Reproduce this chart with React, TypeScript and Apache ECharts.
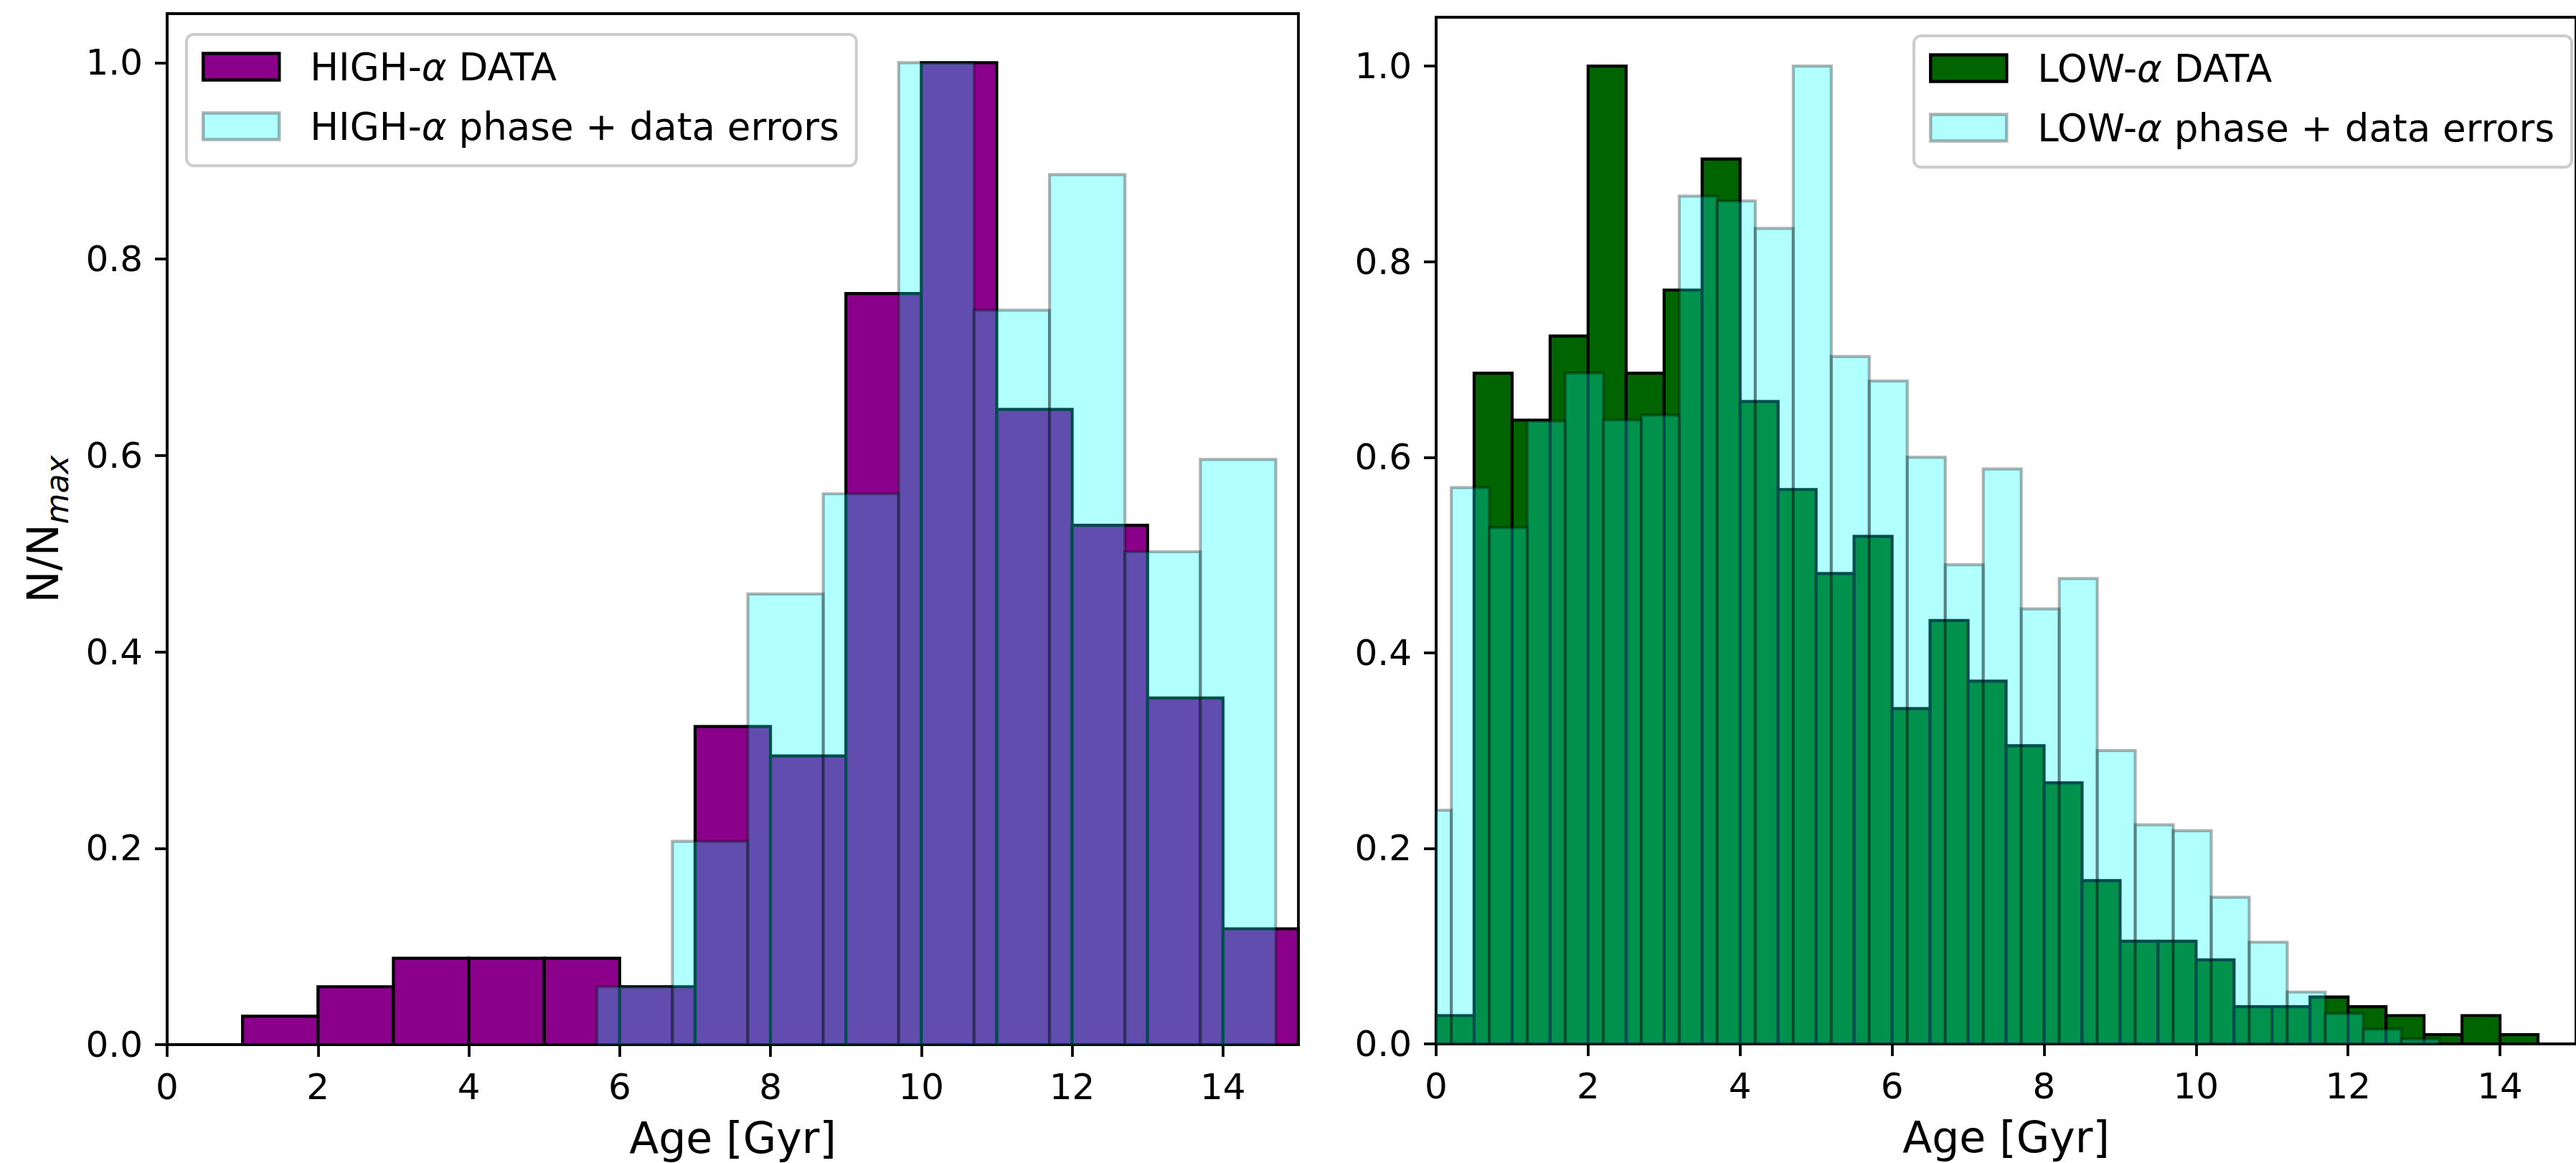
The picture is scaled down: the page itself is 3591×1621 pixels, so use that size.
import React, { useEffect, useRef } from 'react';
import * as echarts from 'echarts';

// ---------- data (normalised counts N/Nmax) ----------
const highDataEdges = [1, 2, 3, 4, 5, 6, 7, 8, 9, 10, 11, 12, 13, 14, 15];
const highDataValues = [0.029, 0.059, 0.088, 0.088, 0.088, 0.059, 0.324, 0.294, 0.765, 1.0, 0.647, 0.529, 0.353, 0.118];

const highModelEdges = [5.7, 6.7, 7.7, 8.7, 9.7, 10.7, 11.7, 12.7, 13.7, 14.7];
const highModelValues = [0.059, 0.207, 0.459, 0.561, 1.0, 0.748, 0.886, 0.502, 0.596];

const lowDataEdges = [0, 0.5, 1, 1.5, 2, 2.5, 3, 3.5, 4, 4.5, 5, 5.5, 6, 6.5, 7, 7.5, 8, 8.5, 9, 9.5, 10, 10.5, 11, 11.5, 12, 12.5, 13, 13.5, 14, 14.5];
const lowDataValues = [0.029, 0.686, 0.638, 0.724, 1.0, 0.686, 0.771, 0.905, 0.657, 0.567, 0.481, 0.519, 0.343, 0.433, 0.371, 0.305, 0.267, 0.167, 0.105, 0.105, 0.086, 0.038, 0.038, 0.048, 0.038, 0.029, 0.0095, 0.029, 0.0095];

const lowModelEdges = [-0.3, 0.2, 0.7, 1.2, 1.7, 2.2, 2.7, 3.2, 3.7, 4.2, 4.7, 5.2, 5.7, 6.2, 6.7, 7.2, 7.7, 8.2, 8.7, 9.2, 9.7, 10.2, 10.7, 11.2, 11.7, 12.2, 12.7, 13.2];
const lowModelValues = [0.239, 0.569, 0.528, 0.637, 0.686, 0.638, 0.643, 0.867, 0.862, 0.834, 1.0, 0.703, 0.678, 0.600, 0.490, 0.588, 0.445, 0.476, 0.300, 0.224, 0.218, 0.150, 0.104, 0.053, 0.031, 0.015, 0.005];

const xTicks = [0, 2, 4, 6, 8, 10, 12, 14];
const yTicks = [0, 0.2, 0.4, 0.6, 0.8, 1.0];

const NAME_HIGH_DATA = 'HIGH-α DATA';
const NAME_HIGH_MODEL = 'HIGH-α phase + data errors';
const NAME_LOW_DATA = 'LOW-α DATA';
const NAME_LOW_MODEL = 'LOW-α phase + data errors';

const FONT = 'DejaVu Sans';
const EDGE_W = 4.2;

const toBins = (edges: number[], values: number[]) =>
  values.map((v, i) => [edges[i], edges[i + 1], v]);

const histRender = (fill: string, stroke: string, lw: number) => (params: any, api: any) => {
  const x0 = api.value(0);
  const x1 = api.value(1);
  const y = api.value(2);
  const p0 = api.coord([x0, y]);
  const p1 = api.coord([x1, 0]);
  const cs = params.coordSys;
  const rect = echarts.graphic.clipRectByRect(
    { x: p0[0], y: p0[1], width: p1[0] - p0[0], height: p1[1] - p0[1] },
    { x: cs.x, y: cs.y, width: cs.width, height: cs.height }
  );
  if (!rect) return null;
  return {
    type: 'rect',
    shape: rect,
    style: { fill, stroke, lineWidth: lw },
  };
};

const histSeries = (name: string, edges: number[], values: number[], idx: number, fill: string, stroke: string, lw: number) => ({
  type: 'custom',
  name,
  xAxisIndex: idx,
  yAxisIndex: idx,
  renderItem: histRender(fill, stroke, lw),
  encode: { x: [0, 1], y: 2 },
  data: toBins(edges, values),
  itemStyle: { color: fill },
});

const axisCommon = {
  axisLine: { show: true, onZero: false, lineStyle: { color: '#000', width: 3.8 } },
  axisTick: { show: true, inside: false, length: 17, lineStyle: { color: '#000', width: 3.8 } },
  splitLine: { show: false },
};

const xAxisFor = (gridIndex: number) => ({
  type: 'value',
  gridIndex,
  min: 0,
  max: 15,
  ...axisCommon,
  axisTick: { ...axisCommon.axisTick, customValues: xTicks },
  axisLabel: {
    customValues: xTicks,
    margin: 34,
    fontSize: 50,
    color: '#000',
    fontFamily: FONT,
    formatter: (v: number) => String(v),
  },
  name: 'Age [Gyr]',
  nameLocation: 'middle',
  nameGap: 100,
  nameTextStyle: { fontSize: 60, color: '#000', fontFamily: FONT },
});

const yAxisFor = (gridIndex: number, withName: boolean) => ({
  type: 'value',
  gridIndex,
  min: 0,
  max: 1.05,
  ...axisCommon,
  axisTick: { ...axisCommon.axisTick, customValues: yTicks },
  axisLabel: {
    customValues: yTicks,
    margin: 34,
    fontSize: 50,
    color: '#000',
    fontFamily: FONT,
    formatter: (v: number) => v.toFixed(1),
  },
  ...(withName
    ? {
        name: '{n|N/N}{s|max}',
        nameLocation: 'middle',
        nameGap: 132,
        nameTextStyle: {
          color: '#000',
          fontFamily: FONT,
          rich: {
            n: { fontSize: 60, fontFamily: FONT, color: '#000' },
            s: { fontSize: 44, fontFamily: FONT, fontStyle: 'italic', color: '#000', padding: [38, 0, 0, 0] },
          },
        },
      }
    : {}),
});

const legendFor = (pos: any, dataName: string, dataColor: string, modelName: string) => ({
  ...pos,
  orient: 'vertical',
  selectedMode: false,
  icon: 'rect',
  itemWidth: 106,
  itemHeight: 37,
  itemGap: 21,
  padding: [14, 24, 24, 21],
  backgroundColor: 'rgba(255,255,255,0.8)',
  borderColor: '#cccccc',
  borderWidth: 4,
  borderRadius: 10,
  formatter: (name: string) => name.replace('α', '{a|α}'),
  textStyle: {
    fontSize: 53,
    lineHeight: 62,
    color: '#000',
    fontFamily: FONT,
    padding: [0, 0, 0, 38],
    rich: {
      a: { fontSize: 53, fontStyle: 'italic', fontFamily: FONT, color: '#000' },
    },
  },
  data: [
    { name: dataName, itemStyle: { color: dataColor, borderColor: '#000', borderWidth: 4.5 } },
    { name: modelName, itemStyle: { color: 'rgba(0,255,255,0.3)', borderColor: 'rgba(0,0,0,0.3)', borderWidth: 4.5 } },
  ],
});

export default function App() {
  const ref = useRef<HTMLDivElement>(null);

  useEffect(() => {
    if (!ref.current) return;
    const chart = echarts.init(ref.current, null, { renderer: 'svg' });
    const option: any = {
      animation: false,
      backgroundColor: '#ffffff',
      grid: [
        { left: 233, top: 19, width: 1577, height: 1439, show: true, borderColor: '#000', borderWidth: 3.8, backgroundColor: 'transparent' },
        { left: 2002, top: 24, width: 1608, height: 1431, show: true, borderColor: '#000', borderWidth: 3.8, backgroundColor: 'transparent' },
      ],
      xAxis: [xAxisFor(0), xAxisFor(1)],
      yAxis: [yAxisFor(0, true), yAxisFor(1, false)],
      legend: [
        legendFor({ left: 260, top: 48 }, NAME_HIGH_DATA, '#8B008B', NAME_HIGH_MODEL),
        legendFor({ right: 6, top: 50 }, NAME_LOW_DATA, '#006400', NAME_LOW_MODEL),
      ],
      series: [
        histSeries(NAME_HIGH_DATA, highDataEdges, highDataValues, 0, '#8B008B', '#000000', EDGE_W),
        histSeries(NAME_HIGH_MODEL, highModelEdges, highModelValues, 0, 'rgba(0,255,255,0.3)', 'rgba(0,0,0,0.3)', EDGE_W),
        histSeries(NAME_LOW_DATA, lowDataEdges, lowDataValues, 1, '#006400', '#000000', EDGE_W),
        histSeries(NAME_LOW_MODEL, lowModelEdges, lowModelValues, 1, 'rgba(0,255,255,0.3)', 'rgba(0,0,0,0.3)', EDGE_W),
      ],
    };
    chart.setOption(option);
    return () => chart.dispose();
  }, []);

  return (
    <div
      ref={ref}
      style={{ position: 'fixed', left: 0, top: 0, width: 3591, height: 1621, background: '#fff', overflow: 'hidden' }}
    />
  );
}
